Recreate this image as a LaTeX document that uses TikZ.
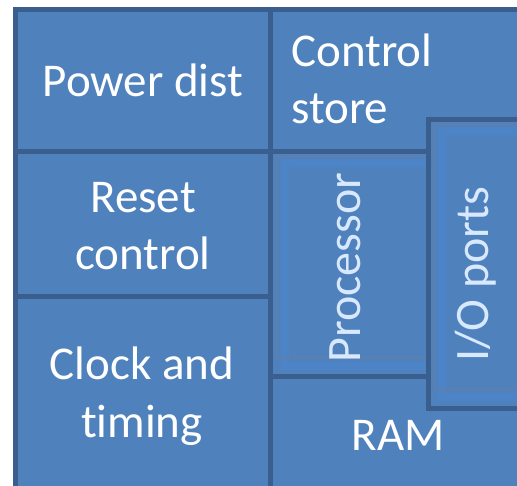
\documentclass[tikz,border=0pt]{standalone}
\usepackage{fontspec}
\setmainfont[Ligatures={NoCommon}]{Carlito}
\definecolor{boxfill}{HTML}{4F81BD}
\definecolor{boxline}{HTML}{3A5F8E}
\definecolor{innerline}{HTML}{4D84C8}
\definecolor{grayband}{HTML}{5880B3}
\definecolor{rottext}{HTML}{D8E8FF}
\tikzset{
  blk/.style={fill=boxfill, draw=boxline, line width=5pt},
  inner/.style={draw=innerline, line width=8pt},
  gband/.style={draw=grayband, line width=3pt},
  lbl/.style={text=white, font=\fontsize{47}{56}\selectfont, inner sep=0pt, anchor=base},
  rlbl/.style={text=rottext, font=\fontsize{48}{56}\selectfont, inner sep=0pt, anchor=base west, rotate=90}
}
\begin{document}
\begin{tikzpicture}[x=1pt,y=-1pt]
\useasboundingbox (0,0) rectangle (517,486);
\clip (0,0) rectangle (517,486);
% left column
\draw[blk] (15,9.5) rectangle (270,152);
\draw[blk] (15,152) rectangle (270,297);
\draw[blk] (15,297) rectangle (270,510);
% right side
\draw[blk] (270,9.5) rectangle (540,152);
\draw[blk] (270,377) rectangle (540,510);
\draw[blk] (270,152) rectangle (428,377);
\draw[inner] (425.5,163) -- (285,163) -- (285,366) -- (425.5,366);
\draw[gband] (425.5,157) -- (276,157) -- (276,358) -- (425.5,358);
\draw[blk] (428,120) rectangle (545,408);
\draw[inner] (545,131) -- (442,131) -- (442,397) -- (545,397);
\draw[gband] (545,125) -- (434,125) -- (434,390) -- (545,390);
% labels
\node[lbl] (power) at (143,97) {Power dist};
\node[lbl] (reset1) at (143,213) {Reset};
\node[lbl] (reset2) at (143,270) {control};
\node[lbl] (clock1) at (142,380) {Clock and};
\node[lbl] (clock2) at (142,437) {timing};
\node[lbl, anchor=base west] (ctrl1) at (291,67) {Control};
\node[lbl, anchor=base west] (ctrl2) at (291,124) {store};
\node[lbl] (ram) at (398,450) {RAM};
\node[rlbl] (proc) at (360,363) {Processor};
\node[rlbl] (io) at (488,362) {I/O ports};
\end{tikzpicture}
\end{document}
